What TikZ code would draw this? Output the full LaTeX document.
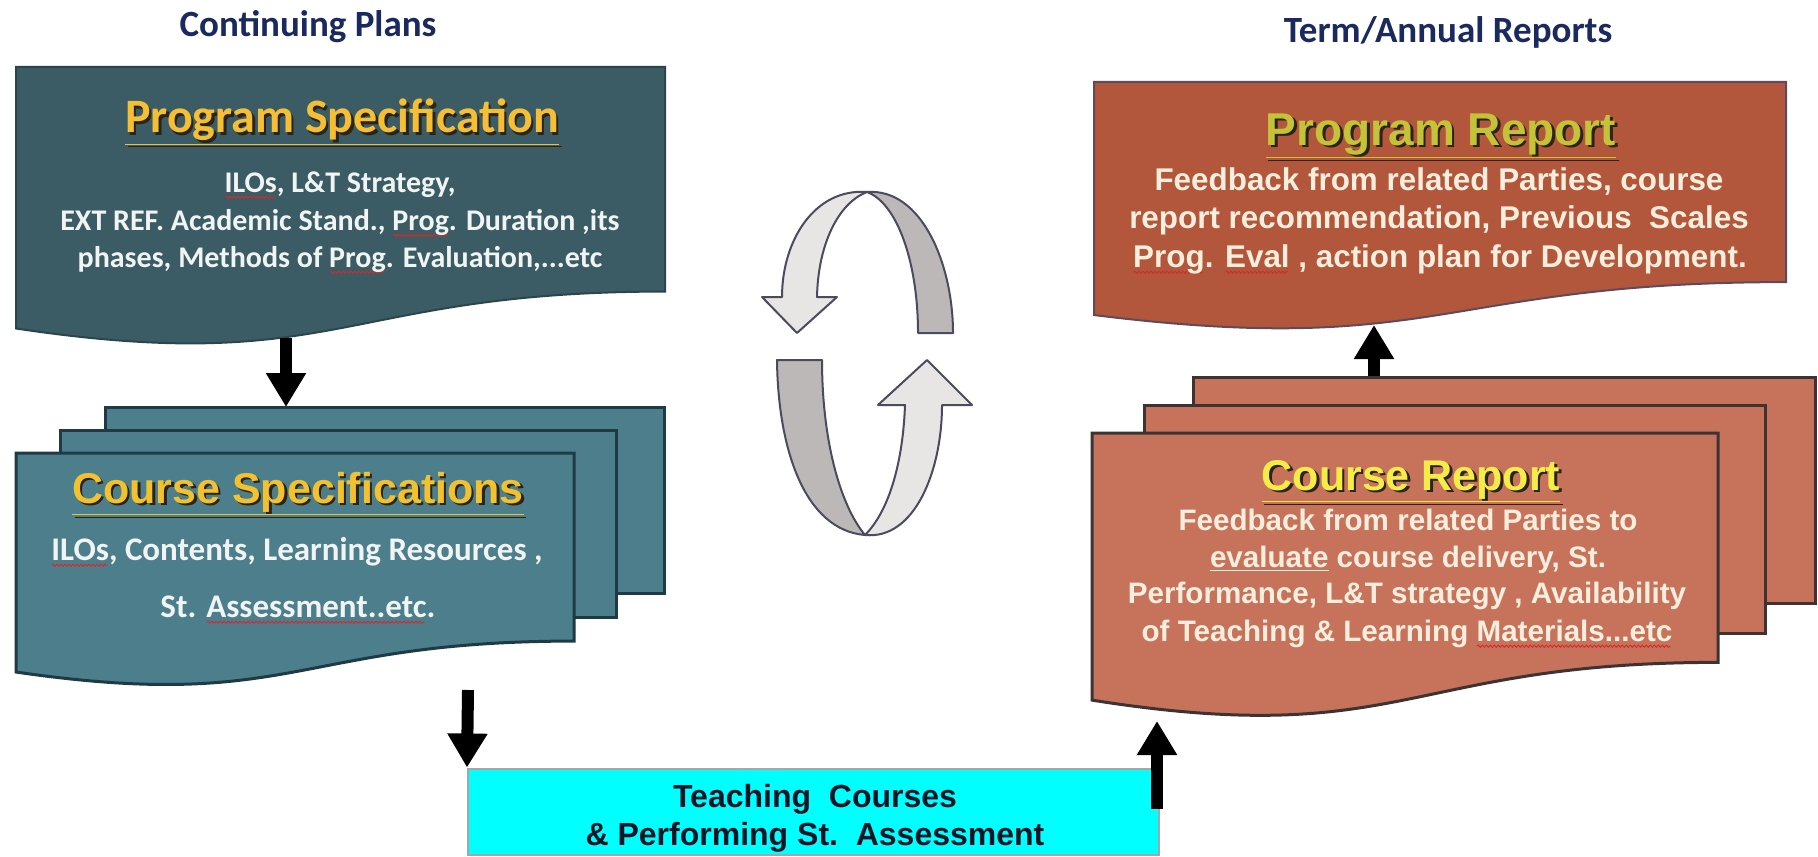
\documentclass[tikz,border=0pt]{standalone}
\usepackage{fontspec}
\setmainfont{Carlito}
\newfontfamily\arialf{Liberation Sans}
\usetikzlibrary{arrows.meta,decorations.pathmorphing}
\definecolor{psfill}{HTML}{3B5C65}
\definecolor{psline}{HTML}{2C454D}
\definecolor{csfill}{HTML}{4C7E8C}
\definecolor{csline}{HTML}{1E3A44}
\definecolor{prfill}{HTML}{B2573B}
\definecolor{prline}{HTML}{5E4A5A}
\definecolor{crfill}{HTML}{C7735B}
\definecolor{crline}{HTML}{3C3434}
\definecolor{navy}{HTML}{1B2A5E}
\definecolor{goldA}{HTML}{F5BF35}
\definecolor{goldB}{HTML}{F2C12E}
\definecolor{oliveY}{HTML}{C4C238}
\definecolor{brightY}{HTML}{F6EC48}
\definecolor{shadowc}{HTML}{2A2418}
\definecolor{bodyW}{HTML}{F0F4F2}
\definecolor{bodyC}{HTML}{F8EEDD}
\definecolor{cyanbox}{HTML}{00FFFF}
\definecolor{teachtxt}{HTML}{0D1526}
\definecolor{ringlight}{HTML}{E8E5E5}
\definecolor{ringdark}{HTML}{BCB8B8}
\definecolor{ringline}{HTML}{4B4B5E}
\definecolor{spellred}{HTML}{D42A2A}
% document shape: style, left, top, width, height
\newcommand\docshape[5]{\draw[#1] (#2,#3) -- ({#2+#4},#3) -- ({#2+#4},{#3+0.802*#5}) .. controls ({#2+#4/2},{#3+0.802*#5}) and ({#2+#4/2},{#3+1.107*#5}) .. (#2,{#3+0.934*#5}) -- cycle;}
% underlined title with drop shadow: name, x, y, font, colour, text
\newcommand\shadowtitle[6]{%
  \node[inner sep=0, anchor=base, font=#4, text=shadowc] at ({#2+2.5},{#3+2.5}) {\underline{#6}};
  \node[inner sep=0, anchor=base, font=#4, text=#5] (#1) at (#2,#3) {\underline{#6}};}
% red spell-check squiggle under a word
\newsavebox\sqbox
\newcommand\squig[1]{\sbox\sqbox{#1}\rlap{\tikz[x=1pt,y=1pt,baseline=0pt]\draw[spellred, line width=0.45pt, decorate, decoration={snake, amplitude=0.55pt, segment length=2pt}] (0.5pt,-2.6pt) -- (\wd\sqbox-0.5pt,-2.6pt);}\usebox\sqbox}
\tikzset{
  txt/.style={inner sep=0, anchor=base},
  header/.style={txt, font=\bfseries\fontsize{18.5}{22}\selectfont, text=navy},
  psbody/.style={txt, font=\bfseries\fontsize{15}{18}\selectfont, text=bodyW},
  csbody/.style={txt, font=\bfseries\fontsize{16.5}{20}\selectfont, text=bodyW},
  prbody/.style={txt, font=\arialf\bfseries\fontsize{15.7}{19}\selectfont, text=bodyC},
  crbody/.style={txt, font=\arialf\bfseries\fontsize{14.8}{18}\selectfont, text=bodyC},
  teachbody/.style={txt, font=\arialf\bfseries\fontsize{16}{19}\selectfont, text=teachtxt},
  blk/.style={line width=6pt, black, -{Triangle[length=17pt,width=19pt]}},
  ring/.style={draw=ringline, line width=1pt, line join=round},
}
\begin{document}
\begin{tikzpicture}[x=0.5pt,y=-0.5pt]
\useasboundingbox[fill=white] (0,0) rectangle (1818,856);

% headers
\node[header] (hleft) at (308,37) {Continuing Plans};
\node[header] (hright) at (1448,43) {Term/Annual Reports};

% Program Specification
\docshape{fill=psfill, draw=psline, line width=1pt}{16}{67}{649}{280}
\shadowtitle{pstitle}{342}{133}{\bfseries\fontsize{24}{28}\selectfont}{goldA}{Program Specification}
\node[psbody] (ps1) at (340,192) {\squig{ILOs}, L\&T Strategy,};
\node[psbody] (ps2) at (340,230) {EXT REF. Academic Stand., \squig{Prog}. Duration ,its};
\node[psbody] (ps3) at (340,267) {phases, Methods of \squig{Prog}. Evaluation,...etc};

% Course Specifications stack
\draw[fill=csfill, draw=csline, line width=1.5pt] (105,407) rectangle (664,593);
\coordinate (csbacktop) at (286,407);
\draw[fill=csfill, draw=csline, line width=1.5pt] (60,430) rectangle (616,617);
\docshape{fill=csfill, draw=csline, line width=1.5pt}{16}{453}{558}{234.5}
\shadowtitle{cstitle}{298}{503}{\arialf\bfseries\fontsize{21.5}{25}\selectfont}{goldB}{Course Specifications}
\node[csbody] (cs1) at (297,560) {\squig{ILOs}, Contents, Learning Resources ,};
\node[csbody] (cs2) at (298,617) {St. \squig{Assessment..etc}.};

% Program Report
\docshape{fill=prfill, draw=prline, line width=1pt}{1094}{82}{692}{249.5}
\shadowtitle{prtitle}{1441}{145}{\arialf\bfseries\fontsize{23}{27}\selectfont}{oliveY}{Program Report}
\node[prbody] (pr1) at (1439,190) {Feedback from related Parties, course};
\node[prbody] (pr2) at (1439,228) {report recommendation, Previous\ \ Scales};
\node[prbody] (pr3) at (1440,267) {\squig{Prog}. \squig{Eval} , action plan for Development.};

% Course Report stack
\draw[fill=crfill, draw=crline, line width=1.5pt] (1193,377) rectangle (1815,603);
\draw[fill=crfill, draw=crline, line width=1.5pt] (1144,405) rectangle (1765,633);
\docshape{fill=crfill, draw=crline, line width=1.5pt}{1092}{433}{626}{286}
\shadowtitle{crtitle}{1411}{490}{\arialf\bfseries\fontsize{21.5}{25}\selectfont}{brightY}{Course Report}
\node[crbody] (cr1) at (1408,530) {Feedback from related Parties to};
\node[crbody] (cr2) at (1408,567) {\underline{evaluate} course delivery, St.};
\node[crbody] (cr3) at (1407,603) {Performance, L\&T strategy , Availability};
\node[crbody] (cr4) at (1407,641) {of Teaching \& Learning \squig{Materials...etc}};

% Teaching box
\node[draw=gray!70, fill=cyanbox, line width=1pt, inner sep=0, minimum width=345.5pt, minimum height=43pt] (teach) at (813.5,811.5) {};
\node[teachbody] (t1) at (815,807) {Teaching\ \ Courses};
\node[teachbody] (t2) at (815,845) {\& Performing St.\ \ Assessment};

% connector arrows
\coordinate (a1s) at (286,338);
\draw[blk] (a1s) -- (csbacktop);
\coordinate (a2s) at (468,690);
\draw[blk] (a2s) -- (teach.north west);
\coordinate (a3s) at (1374,376);
\coordinate (a3e) at (1374,325);
\draw[blk] (a3s) -- (a3e);
\coordinate (a4s) at (1157,809);
\coordinate (a4e) at (1157,721);
\draw[blk] (a4s) -- (a4e);

% cycle symbol
\fill[ringdark, ring] (867,192) .. controls (922,188) and (953,265) .. (953,333) -- (918,333) .. controls (918,262) and (897,203) .. (867,192) -- cycle;
\fill[ringlight, ring] (867,192) .. controls (815,188) and (782,240) .. (782,297) -- (762,297) -- (797,333) -- (837,297) -- (817,297) .. controls (818,245) and (838,203) .. (867,192) -- cycle;
\fill[ringdark, ring] (777,360) -- (822,360) .. controls (822,440) and (840,505) .. (865,535) .. controls (805,530) and (778,450) .. (777,360) -- cycle;
\fill[ringlight, ring] (865,535) .. controls (915,540) and (942,470) .. (942,405) -- (972,405) -- (927,360) -- (878,405) -- (905,405) .. controls (903,460) and (890,510) .. (865,535) -- cycle;
\end{tikzpicture}
\end{document}
